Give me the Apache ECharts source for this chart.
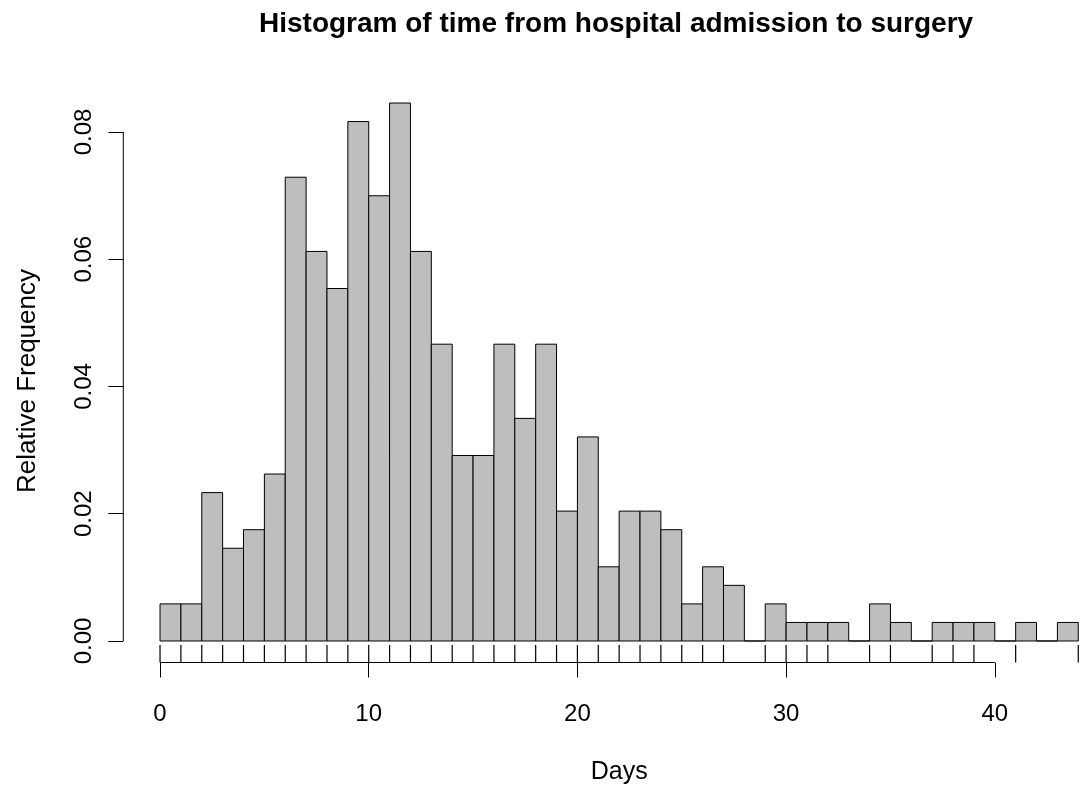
<!DOCTYPE html>
<html>
<head>
<meta charset="utf-8">
<script src="https://cdn.jsdelivr.net/npm/echarts@6/dist/echarts.min.js"></script>
<style>
html,body{margin:0;padding:0;background:#fff;}
#chart{width:1086px;height:791px;}
</style>
</head>
<body>
<div id="chart"></div>
<script>
// ---- data ----
const binStarts = [0,1,2,3,4,5,6,7,8,9,10,11,12,13,14,15,16,17,18,19,20,21,22,23,24,25,26,27,28,29,30,31,32,33,34,35,36,37,38,39,40,41,42,43];
const binCounts = [2,2,8,5,6,9,25,21,19,28,24,29,21,16,10,10,16,12,16,7,11,4,7,7,6,2,4,3,0,2,1,1,1,0,2,1,0,1,1,1,0,1,0,1];
const rugDays = [0,1,2,3,4,5,6,7,8,9,10,11,12,13,14,15,16,17,18,19,20,21,22,23,24,25,26,27,29,30,31,32,34,35,37,38,39,41,44];
const xTicks = [0,10,20,30,40];
const yTicks = [0,0.02,0.04,0.06,0.08];
const titleText = 'Histogram of time from hospital admission to surgery';
const xLabel = 'Days';
const yLabel = 'Relative Frequency';

const total = binCounts.reduce((a,b)=>a+b,0);
const barData = binStarts.map((s,i)=>[s, s+1, binCounts[i]/total]);
const FONT = "'Liberation Sans', Arial, Helvetica, sans-serif";
const X_MIN = -1.76, X_MAX = 45.76, Y_MIN = -0.00338, Y_MAX = 0.08793;

const chart = echarts.init(document.getElementById('chart'));
chart.setOption({
  backgroundColor: '#ffffff',
  animation: false,
  title: {
    text: titleText,
    left: 259, top: 10, padding: 0,
    textStyle: {fontFamily: FONT, fontSize: 28, fontWeight: 'bold', color: '#000'}
  },
  grid: {left: 123.3, top: 81.5, width: 991.7, height: 581, outerBoundsMode: 'none', containLabel: false},
  xAxis: {
    type: 'value', min: X_MIN, max: X_MAX,
    axisLine: {show: false, onZero: false},
    splitLine: {show: false},
    axisTick: {show: true, customValues: xTicks, length: 15, lineStyle: {color: '#000', width: 1}},
    axisLabel: {customValues: xTicks, margin: 40, fontSize: 24, color: '#000', fontFamily: FONT},
    name: xLabel, nameLocation: 'middle', nameGap: 97,
    nameTextStyle: {fontSize: 25, color: '#000', fontFamily: FONT}
  },
  yAxis: {
    type: 'value', min: Y_MIN, max: Y_MAX,
    axisLine: {show: false, onZero: false},
    splitLine: {show: false},
    axisTick: {show: true, customValues: yTicks, length: 15, lineStyle: {color: '#000', width: 1}},
    axisLabel: {customValues: yTicks, rotate: 90, margin: 27, fontSize: 24, color: '#000', fontFamily: FONT,
      formatter: v => Number(v).toFixed(2)},
    name: yLabel, nameLocation: 'middle', nameGap: 82, nameRotate: 90,
    nameTextStyle: {fontSize: 26, color: '#000', fontFamily: FONT, padding: [0, 18, 0, 0]}
  },
  series: [
    {
      type: 'custom', name: 'bars', data: barData,
      encode: {x: [0, 1], y: 2},
      renderItem: (params, api) => {
        const p0 = api.coord([api.value(0), api.value(2)]);
        const p1 = api.coord([api.value(1), 0]);
        return {type: 'rect', shape: {x: p0[0], y: p0[1], width: p1[0]-p0[0], height: p1[1]-p0[1]},
          style: {fill: '#BEBEBE', stroke: '#000', lineWidth: 1}};
      }
    },
    {
      type: 'custom', name: 'rug', data: rugDays.map(d=>[d]),
      encode: {x: 0},
      renderItem: (params, api) => {
        const cs = params.coordSys;
        const p = api.coord([api.value(0), Y_MIN]);
        const len = 0.03 * cs.height;
        return {type: 'line', shape: {x1: p[0], y1: p[1], x2: p[0], y2: p[1]-len},
          style: {stroke: '#000', lineWidth: 1.2}};
      }
    },
    {
      type: 'custom', name: 'axislines', data: [[0]],
      renderItem: (params, api) => {
        const a = api.coord([xTicks[0], Y_MIN]);
        const b = api.coord([xTicks[xTicks.length-1], Y_MIN]);
        const c = api.coord([X_MIN, yTicks[0]]);
        const d = api.coord([X_MIN, yTicks[yTicks.length-1]]);
        return {type: 'group', children: [
          {type: 'line', shape: {x1: a[0], y1: a[1], x2: b[0], y2: b[1]}, style: {stroke: '#000', lineWidth: 1}},
          {type: 'line', shape: {x1: c[0], y1: c[1], x2: d[0], y2: d[1]}, style: {stroke: '#000', lineWidth: 1}}
        ]};
      }
    }
  ]
});
</script>
</body>
</html>
